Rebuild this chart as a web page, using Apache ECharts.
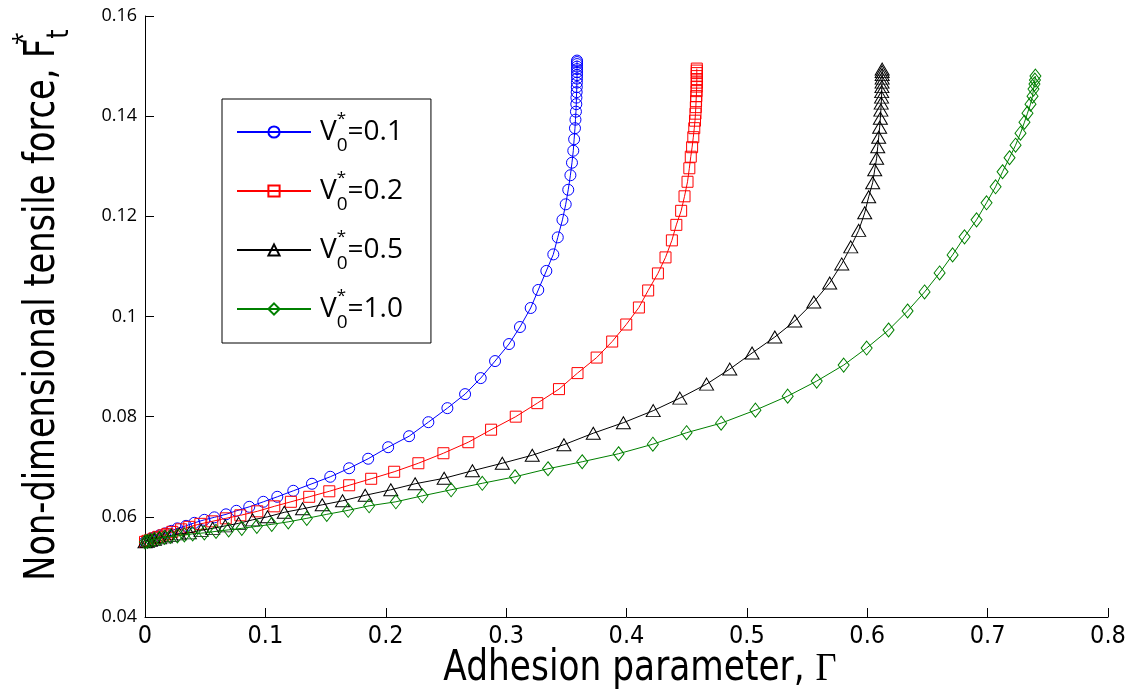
<!DOCTYPE html>
<html>
<head>
<meta charset="utf-8">
<script src="https://cdn.jsdelivr.net/npm/echarts@6/dist/echarts.min.js"></script>
<style>
  html, body { margin: 0; padding: 0; background: #fff; }
  #chart { width: 1139px; height: 698px; }
</style>
</head>
<body>
<div id="chart"></div>
<script>
// Adhesion parameter (x) and non-dimensional tensile force (y) for each V0*
const gammaV01 = [0, 0.0020, 0.0045, 0.0078, 0.0120, 0.0169, 0.0219, 0.0269, 0.0341, 0.0410,
  0.0493, 0.0576, 0.0673, 0.0759, 0.0866, 0.0983, 0.1099, 0.1232, 0.1387, 0.1539,
  0.1696, 0.1854, 0.2020, 0.2194, 0.2354, 0.2512, 0.2659, 0.2789, 0.2908, 0.3024,
  0.3115, 0.3204, 0.3267, 0.3334, 0.3392, 0.3429, 0.3468, 0.3495, 0.3516, 0.3534,
  0.3547, 0.3558, 0.3565, 0.3572, 0.3576, 0.3580, 0.3583, 0.3584, 0.3586, 0.3587,
  0.3588, 0.3589, 0.3589, 0.3589, 0.3589, 0.3589, 0.3589, 0.3589, 0.3589];
const forceV01 = [0.0550, 0.0553, 0.0556, 0.0559, 0.0563, 0.0567, 0.0572, 0.0577, 0.0582, 0.0588,
  0.0594, 0.0599, 0.0605, 0.0612, 0.0620, 0.0630, 0.0640, 0.0652, 0.0666, 0.0680,
  0.0697, 0.0716, 0.0739, 0.0761, 0.0789, 0.0817, 0.0845, 0.0877, 0.0911, 0.0945,
  0.0979, 0.1017, 0.1053, 0.1091, 0.1124, 0.1158, 0.1193, 0.1224, 0.1253, 0.1282,
  0.1307, 0.1331, 0.1354, 0.1376, 0.1393, 0.1409, 0.1424, 0.1437, 0.1448, 0.1458,
  0.1467, 0.1475, 0.1482, 0.1488, 0.1494, 0.1499, 0.1504, 0.1508, 0.1511];

const gammaV02 = [0, 0.0020, 0.0045, 0.0078, 0.0111, 0.0153, 0.0186, 0.0227, 0.0300, 0.0368,
  0.0460, 0.0559, 0.0671, 0.0792, 0.0933, 0.1074, 0.1212, 0.1364, 0.1531, 0.1696,
  0.1879, 0.2070, 0.2271, 0.2479, 0.2686, 0.2875, 0.3080, 0.3259, 0.3439, 0.3593,
  0.3752, 0.3881, 0.3998, 0.4103, 0.4180, 0.4261, 0.4324, 0.4377, 0.4414, 0.4454,
  0.4482, 0.4507, 0.4522, 0.4534, 0.4545, 0.4555, 0.4563, 0.4569, 0.4573, 0.4576,
  0.4578, 0.4580, 0.4582, 0.4583, 0.4584, 0.4584, 0.4584, 0.4584, 0.4584, 0.4584];
const forceV02 = [0.0550, 0.0552, 0.0554, 0.0557, 0.0560, 0.0563, 0.0566, 0.0570, 0.0575, 0.0580,
  0.0586, 0.0591, 0.0597, 0.0603, 0.0611, 0.0621, 0.0630, 0.0640, 0.0651, 0.0663,
  0.0676, 0.0690, 0.0707, 0.0727, 0.0749, 0.0774, 0.0800, 0.0827, 0.0855, 0.0887,
  0.0918, 0.0950, 0.0984, 0.1018, 0.1052, 0.1086, 0.1118, 0.1152, 0.1183, 0.1211,
  0.1240, 0.1269, 0.1296, 0.1319, 0.1338, 0.1358, 0.1376, 0.1391, 0.1405, 0.1418,
  0.1430, 0.1440, 0.1450, 0.1459, 0.1467, 0.1474, 0.1480, 0.1486, 0.1491, 0.1495];

const gammaV05 = [0, 0.0020, 0.0045, 0.0078, 0.0120, 0.0169, 0.0219, 0.0285, 0.0368, 0.0466,
  0.0562, 0.0667, 0.0778, 0.0894, 0.1018, 0.1157, 0.1309, 0.1472, 0.1641, 0.1829,
  0.2042, 0.2244, 0.2485, 0.2720, 0.2968, 0.3217, 0.3480, 0.3724, 0.3974, 0.4222,
  0.4443, 0.4665, 0.4858, 0.5043, 0.5232, 0.5398, 0.5556, 0.5688, 0.5788, 0.5863,
  0.5929, 0.5979, 0.6012, 0.6045, 0.6062, 0.6078, 0.6087, 0.6095, 0.6103, 0.6109,
  0.6113, 0.6116, 0.6119, 0.6120, 0.6122, 0.6123, 0.6124, 0.6124, 0.6124, 0.6124];
const forceV05 = [0.0550, 0.0551, 0.0553, 0.0555, 0.0558, 0.0560, 0.0563, 0.0566, 0.0568, 0.0573,
  0.0577, 0.0582, 0.0587, 0.0594, 0.0600, 0.0609, 0.0616, 0.0624, 0.0632, 0.0643,
  0.0654, 0.0666, 0.0677, 0.0692, 0.0707, 0.0723, 0.0744, 0.0767, 0.0788, 0.0812,
  0.0837, 0.0865, 0.0895, 0.0927, 0.0959, 0.0991, 0.1029, 0.1067, 0.1105, 0.1139,
  0.1172, 0.1207, 0.1239, 0.1267, 0.1293, 0.1316, 0.1339, 0.1358, 0.1378, 0.1396,
  0.1412, 0.1426, 0.1438, 0.1449, 0.1459, 0.1468, 0.1476, 0.1483, 0.1489, 0.1494];

const gammaV10 = [0, 0.0020, 0.0045, 0.0078, 0.0120, 0.0161, 0.0211, 0.0269, 0.0327, 0.0396,
  0.0493, 0.0590, 0.0695, 0.0804, 0.0929, 0.1053, 0.1190, 0.1344, 0.1510, 0.1688,
  0.1862, 0.2084, 0.2305, 0.2543, 0.2802, 0.3074, 0.3348, 0.3632, 0.3934, 0.4219,
  0.4499, 0.4786, 0.5071, 0.5339, 0.5580, 0.5804, 0.5995, 0.6177, 0.6335, 0.6476,
  0.6601, 0.6709, 0.6808, 0.6908, 0.6991, 0.7066, 0.7124, 0.7182, 0.7232, 0.7273,
  0.7306, 0.7331, 0.7356, 0.7373, 0.7381, 0.7389, 0.7393, 0.7397];
const forceV10 = [0.0550, 0.0551, 0.0553, 0.0555, 0.0557, 0.0559, 0.0561, 0.0562, 0.0564, 0.0566,
  0.0568, 0.0571, 0.0574, 0.0577, 0.0581, 0.0585, 0.0590, 0.0597, 0.0605, 0.0613,
  0.0622, 0.0630, 0.0642, 0.0654, 0.0667, 0.0680, 0.0696, 0.0710, 0.0726, 0.0745,
  0.0768, 0.0787, 0.0813, 0.0841, 0.0871, 0.0903, 0.0937, 0.0973, 0.1011, 0.1049,
  0.1087, 0.1123, 0.1159, 0.1193, 0.1227, 0.1259, 0.1289, 0.1317, 0.1342, 0.1366,
  0.1388, 0.1406, 0.1424, 0.1440, 0.1454, 0.1464, 0.1472, 0.1480];

const seriesNames = ['V0=0.1', 'V0=0.2', 'V0=0.5', 'V0=1.0'];
const legendValues = ['0.1', '0.2', '0.5', '1.0'];
const xTicks = [0, 0.8, 0.1];      // min, max, step
const yTicks = [0.04, 0.16, 0.02]; // min, max, step

const narrow = '"Liberation Sans Narrow", "DejaVu Sans Condensed", sans-serif';
const plain = '"Open Sans", "Noto Sans", sans-serif';

function zip(xs, ys) { return xs.map((x, i) => [x, ys[i]]); }

const styles = [
  { color: '#0000ff', symbol: 'circle', size: 11 },
  { color: '#ff0000', symbol: 'rect', size: 11 },
  { color: '#000000', symbol: 'triangle', size: [14, 12] },
  { color: '#008000', symbol: 'diamond', size: [11, 14] }
];
const dataSets = [
  zip(gammaV01, forceV01),
  zip(gammaV02, forceV02),
  zip(gammaV05, forceV05),
  zip(gammaV10, forceV10)
];

const series = dataSets.map((d, i) => ({
  name: seriesNames[i],
  type: 'line',
  data: d,
  symbol: styles[i].symbol,
  symbolSize: styles[i].size,
  showAllSymbol: true,
  clip: false,
  lineStyle: { color: styles[i].color, width: 1 },
  itemStyle: { color: 'rgba(255,255,255,0)', borderColor: styles[i].color, borderWidth: 1 },
  emphasis: { disabled: true },
  z: 2 + i
}));

const chart = echarts.init(document.getElementById('chart'), null, { renderer: 'canvas' });
chart.setOption({
  animation: false,
  backgroundColor: '#ffffff',
  grid: { left: 145, right: 31, top: 16, bottom: 81, containLabel: false },
  xAxis: {
    type: 'value',
    min: xTicks[0], max: xTicks[1], interval: xTicks[2],
    axisLine: { show: true, onZero: false, lineStyle: { color: '#000', width: 1 } },
    axisTick: { show: true, inside: true, length: 9, lineStyle: { color: '#000' } },
    splitLine: { show: false },
    axisLabel: {
      color: '#000', fontFamily: narrow, fontSize: 25, margin: 7,
      formatter: v => String(parseFloat(v.toFixed(2)))
    }
  },
  yAxis: {
    type: 'value',
    min: yTicks[0], max: yTicks[1], interval: yTicks[2],
    axisLine: { show: true, onZero: false, lineStyle: { color: '#000', width: 1 } },
    axisTick: { show: true, inside: true, length: 9, lineStyle: { color: '#000' } },
    splitLine: { show: false },
    axisLabel: {
      color: '#000', fontFamily: plain, fontSize: 18, margin: 8,
      formatter: v => String(parseFloat(v.toFixed(2)))
    }
  },
  legend: {
    orient: 'vertical',
    left: 222, top: 99,
    padding: [10, 28, 11, 14],
    itemGap: 13,
    itemWidth: 74,
    itemHeight: 14,
    borderColor: '#000',
    borderWidth: 1,
    backgroundColor: '#fff',
    selectedMode: false,
    data: seriesNames,
    formatter: name => {
      const i = seriesNames.indexOf(name);
      return '{v|V}{s|*}{o|0}{n|=' + legendValues[i] + '}';
    },
    textStyle: {
      color: '#000',
      rich: {
        v: { fontFamily: plain, fontSize: 28, lineHeight: 46, padding: [0, 0, 0, 4] },
        s: { fontFamily: plain, fontSize: 17, lineHeight: 46, width: 0, verticalAlign: 'top', padding: [2, 0, 0, 0] },
        o: { fontFamily: plain, fontSize: 19, lineHeight: 46, verticalAlign: 'bottom' },
        n: { fontFamily: plain, fontSize: 28, lineHeight: 46 }
      }
    }
  },
  graphic: [
    {
      // x-axis title, compressed horizontally
      type: 'text',
      x: 640, y: 669,
      scaleX: 0.91,
      silent: true,
      style: {
        text: '{a|Adhesion parameter, }{g|Γ}',
        align: 'center', verticalAlign: 'middle',
        fill: '#000',
        rich: {
          a: { fontFamily: narrow, fontSize: 42, fill: '#000' },
          g: { fontFamily: '"Liberation Serif", "DejaVu Serif", serif', fontSize: 40, fill: '#000' }
        }
      }
    },
    {
      // y-axis title, rotated and compressed along its length
      type: 'text',
      x: 43, y: 305,
      rotation: Math.PI / 2,
      scaleX: 0.89,
      silent: true,
      style: {
        text: '{a|Non-dimensional tensile force, F}{s|*}{t|t}',
        align: 'center', verticalAlign: 'middle',
        fill: '#000',
        rich: {
          a: { fontFamily: narrow, fontSize: 42, lineHeight: 64, fill: '#000' },
          s: { fontFamily: plain, fontSize: 26, lineHeight: 64, width: 0, verticalAlign: 'top', fill: '#000' },
          t: { fontFamily: narrow, fontSize: 30, lineHeight: 64, verticalAlign: 'bottom', fill: '#000' }
        }
      }
    }
  ],
  series: series
});
</script>
</body>
</html>
